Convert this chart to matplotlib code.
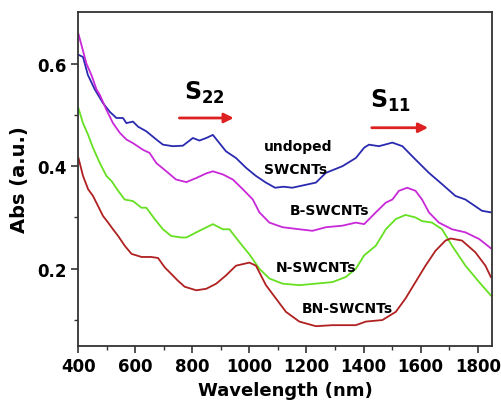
import matplotlib
matplotlib.use("Agg")
import matplotlib.pyplot as plt

# Undoped SWCNTs (blue)
undoped_x = [402, 417, 434, 458, 487, 511, 534, 557, 569, 592, 610, 639, 674, 697, 732, 767, 802, 825, 849, 872,
             895, 918, 953, 988, 1023, 1058, 1090, 1120, 1150, 1175, 1233, 1268, 1326, 1373, 1402, 1419, 1454, 1501,
             1536, 1582, 1629, 1675, 1722, 1757, 1815, 1846]
undoped_y = [0.617, 0.613, 0.578, 0.550, 0.523, 0.506, 0.494, 0.494, 0.484, 0.487, 0.477, 0.468, 0.452, 0.442,
             0.439, 0.440, 0.455, 0.450, 0.455, 0.461, 0.445, 0.429, 0.416, 0.397, 0.381, 0.368, 0.358, 0.360, 0.358,
             0.361, 0.368, 0.387, 0.400, 0.416, 0.436, 0.442, 0.439, 0.446, 0.439, 0.413, 0.387, 0.365, 0.342, 0.335,
             0.313, 0.310]

# B-SWCNTs (magenta)
b_x = [401, 417, 429, 447, 464, 476, 499, 522, 546, 569, 592, 627, 650, 674, 709, 743, 779, 814, 849, 872, 907,
       942, 977, 1012, 1035, 1070, 1116, 1175, 1221, 1268, 1326, 1373, 1402, 1443, 1478, 1501, 1524, 1553, 1582,
       1605, 1629, 1664, 1710, 1757, 1805, 1846]
b_y = [0.658, 0.625, 0.600, 0.577, 0.550, 0.539, 0.510, 0.484, 0.465, 0.452, 0.445, 0.432, 0.426, 0.406, 0.390,
       0.374, 0.369, 0.377, 0.386, 0.390, 0.384, 0.374, 0.355, 0.335, 0.310, 0.290, 0.281, 0.277, 0.274, 0.281,
       0.284, 0.290, 0.287, 0.310, 0.329, 0.335, 0.352, 0.358, 0.352, 0.335, 0.310, 0.290, 0.277, 0.271, 0.258,
       0.240]

# N-SWCNTs (green)
n_x = [401, 417, 435, 452, 476, 499, 517, 540, 563, 592, 622, 639, 668, 697, 726, 761, 779, 814, 872, 907, 930,
       965, 1000, 1035, 1070, 1116, 1175, 1233, 1291, 1338, 1373, 1402, 1443, 1478, 1513, 1547, 1582, 1605, 1640,
       1675, 1710, 1757, 1805, 1846]
n_y = [0.513, 0.484, 0.461, 0.436, 0.406, 0.381, 0.371, 0.352, 0.335, 0.332, 0.319, 0.319, 0.297, 0.277, 0.264,
       0.261, 0.261, 0.271, 0.287, 0.277, 0.277, 0.252, 0.228, 0.200, 0.181, 0.171, 0.168, 0.171, 0.174, 0.184,
       0.200, 0.226, 0.245, 0.277, 0.297, 0.305, 0.300, 0.293, 0.290, 0.277, 0.245, 0.206, 0.174, 0.148]

# BN-SWCNTs (dark red)
bn_x = [401, 417, 435, 452, 470, 487, 505, 522, 540, 563, 587, 622, 656, 680, 703, 726, 749, 773, 814, 849, 884,
        918, 953, 1000, 1023, 1058, 1093, 1128, 1175, 1233, 1291, 1373, 1408, 1466, 1513, 1547, 1582, 1617, 1652,
        1687, 1705, 1745, 1792, 1827, 1846]
bn_y = [0.416, 0.381, 0.355, 0.342, 0.322, 0.303, 0.290, 0.277, 0.264, 0.245, 0.229, 0.223, 0.223, 0.221, 0.203,
        0.190, 0.177, 0.165, 0.158, 0.161, 0.171, 0.187, 0.206, 0.212, 0.206, 0.168, 0.142, 0.116, 0.097, 0.088,
        0.090, 0.090, 0.097, 0.100, 0.116, 0.142, 0.174, 0.206, 0.235, 0.255, 0.259, 0.255, 0.232, 0.206, 0.184]

fig = plt.figure(figsize=(5.01, 4.02), dpi=100)
ax = fig.add_axes([0.156, 0.1376, 0.826, 0.8292])

ax.plot(undoped_x, undoped_y, color="#2a2ab0", lw=1.3)
ax.plot(b_x, b_y, color="#c828d8", lw=1.3)
ax.plot(n_x, n_y, color="#66e020", lw=1.3)
ax.plot(bn_x, bn_y, color="#b02020", lw=1.3)

ax.set_xlim(400, 1850)
ax.set_ylim(0.05, 0.7)
ax.set_xticks([400, 600, 800, 1000, 1200, 1400, 1600, 1800])
ax.set_xticks([500, 700, 900, 1100, 1300, 1500, 1700], minor=True)
ax.set_yticks([0.2, 0.4, 0.6])
ax.set_yticks([0.1, 0.3, 0.5], minor=True)
ax.tick_params(which="major", direction="out", length=5, width=1.2, labelsize=12, color="#333333")
ax.tick_params(which="minor", direction="out", length=3, width=1.0, color="#333333")
for lab in ax.get_xticklabels() + ax.get_yticklabels():
    lab.set_fontweight("bold")
for s in ax.spines.values():
    s.set_linewidth(1.3)
    s.set_color("#333333")

ax.set_xlabel("Wavelength (nm)", fontsize=13, fontweight="bold", labelpad=4)
ax.set_ylabel("Abs (a.u.)", fontsize=14, fontweight="bold", labelpad=6)

ax.text(842, 0.545, r"$\mathbf{S_{22}}$", fontsize=17, ha="center", va="center")
ax.text(1496, 0.529, r"$\mathbf{S_{11}}$", fontsize=17, ha="center", va="center")
arrow_kw = dict(arrowstyle="-|>", color="#dd2020", lw=2, mutation_scale=14)
ax.annotate("", xy=(955, 0.494), xytext=(745, 0.494), arrowprops=arrow_kw)
ax.annotate("", xy=(1636, 0.475), xytext=(1419, 0.475), arrowprops=arrow_kw)

ax.text(1052, 0.440, "undoped", fontsize=10, fontweight="bold", ha="left", va="center")
ax.text(1052, 0.394, "SWCNTs", fontsize=10, fontweight="bold", ha="left", va="center")
ax.text(1279, 0.314, "B-SWCNTs", fontsize=10, fontweight="bold", ha="center", va="center")
ax.text(1234, 0.204, "N-SWCNTs", fontsize=10, fontweight="bold", ha="center", va="center")
ax.text(1343, 0.123, "BN-SWCNTs", fontsize=10, fontweight="bold", ha="center", va="center")

fig.savefig("out.png", dpi=100)
